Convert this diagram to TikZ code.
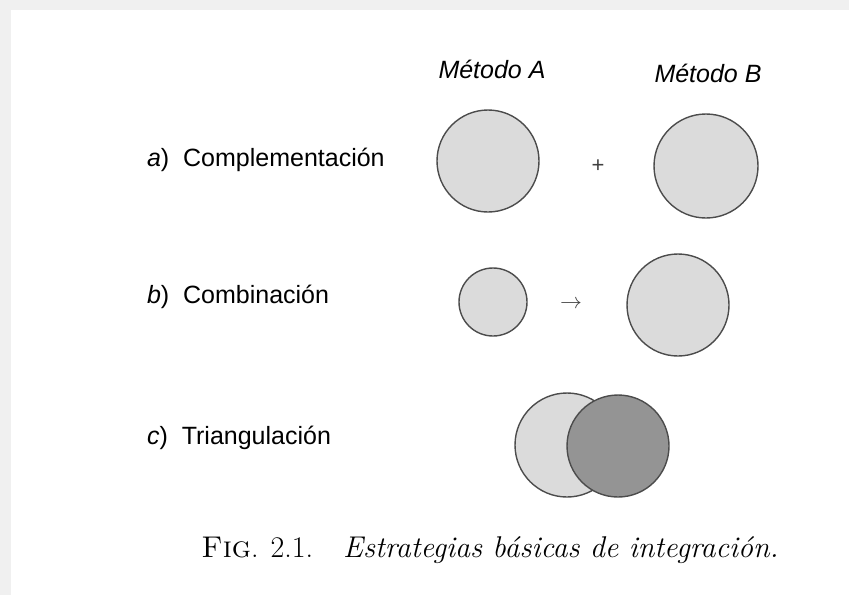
\documentclass[tikz,border=0pt]{standalone}
\usepackage{fontspec}
\setsansfont{Liberation Sans}
\usetikzlibrary{positioning}

\begin{document}
\begin{tikzpicture}[x=0.5pt,y=-0.5pt,
      every node/.style={font=\sffamily\fontsize{12.5}{14}\selectfont},
      disco/.style={circle,draw=black!70,line width=0.7pt,fill=black!14,inner sep=0pt},
      oscuro/.style={disco,fill=black!42},
      metodo/.style={font=\sffamily\itshape\fontsize{12.5}{14}\selectfont},
      signo/.style={font=\sffamily\fontsize{11}{12}\selectfont,text=black!75}]
    \useasboundingbox (0,0) rectangle (849,595);
    \fill[black!6] (0,0) rectangle (849,595);
    \fill[white] (11,10) rectangle (849,595);
    % encabezados
    \node[metodo] (metA) at (492,69) {Método A};
    \node[metodo] (metB) at (708,73) {Método B};
    % etiquetas de las filas
    \foreach \r/\y/\t in {a/160/Complementación,b/297/Combinación,c/438/Triangulación}
      \node[anchor=west] (lab\r) at (140,\y) {\textit{\r})\ \ \t};
    % a) complementacion
    \node[disco,minimum size=51pt] (a1) at (488,161) {};
    \node[signo] (mas) at (598,166) {+};
    \node[disco,minimum size=52pt] (a2) at (706,166) {};
    % b) combinacion
    \node[disco,minimum size=34pt] (b1) at (493,302) {};
    \node[signo] (flecha) at (571,304) {$\rightarrow$};
    \node[disco,minimum size=51pt] (b2) at (678,305) {};
    % c) triangulacion
    \node[disco,minimum size=52pt] (c1) at (567,445) {};
    \node[oscuro,minimum size=51pt] (c2) at (618,446) {};
    % pie de figura
    \node[font=\rmfamily\fontsize{15}{17}\selectfont] (pie) at (490,550)
      {\textsc{Fig}. 2.1.\quad \textit{Estrategias básicas de integración.}};
  \end{tikzpicture}
\end{document}
